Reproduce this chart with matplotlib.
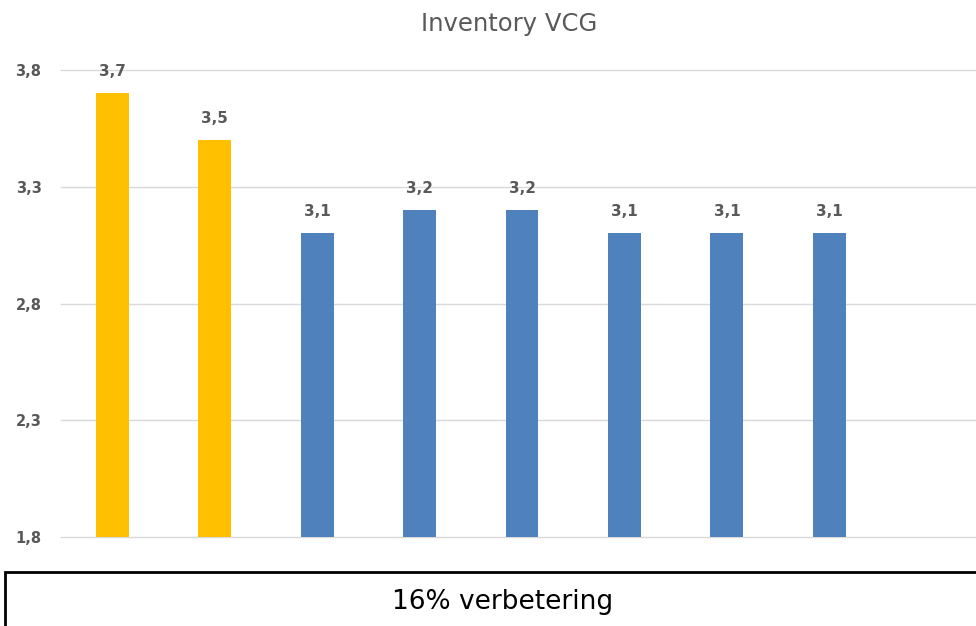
import matplotlib.pyplot as plt
from matplotlib.patches import Rectangle

categories = ['A', 'B', 'C', 'D', 'E', 'F', 'G', 'H', 'I']
values = [3.7, 3.5, 3.1, 3.2, 3.2, 3.1, 3.1, 3.1, None]
colors = ['#FFC000', '#FFC000', '#4F81BD', '#4F81BD', '#4F81BD',
          '#4F81BD', '#4F81BD', '#4F81BD', '#4F81BD']
yticks = [1.8, 2.3, 2.8, 3.3, 3.8]
title = 'Inventory VCG'
note = '16% verbetering'

grey = '#595959'
fig = plt.figure(figsize=(9.76, 6.26), dpi=100)
ax = fig.add_axes([61 / 976, 89 / 626, 922 / 976, 467 / 626])

xs = list(range(len(categories)))
for x, v, c in zip(xs, values, colors):
    if v is None:
        continue
    ax.bar(x, v - 1.8, bottom=1.8, width=0.32, color=c, zorder=3)
    ax.text(x, v + 0.06, f'{v:.1f}'.replace('.', ','), ha='center', va='bottom',
            fontsize=11, fontweight='bold', color=grey)

ax.set_xlim(-0.5, len(categories) - 0.5)
ax.set_ylim(1.8, 3.8)
ax.set_yticks(yticks)
ax.set_yticklabels([f'{t:.1f}'.replace('.', ',') for t in yticks],
                   fontsize=10.5, fontweight='bold', color=grey)
ax.set_xticks([])
for t in yticks:
    ax.axhline(t, color='#D9D9D9', linewidth=1, zorder=0, clip_on=False)
for s in ax.spines.values():
    s.set_visible(False)
ax.tick_params(axis='y', length=0, pad=14)

fig.text(509 / 976, 1 - 24 / 626, title, ha='center', va='center',
         fontsize=17.5, color=grey)

fig.patches.append(Rectangle((5 / 976, -0.05), 1.0, 0.05 + 54 / 626,
                             transform=fig.transFigure, fill=False,
                             edgecolor='black', linewidth=2))
fig.text(503 / 976, 1 - 602 / 626, note, ha='center', va='center',
         fontsize=19, color='black', family=['Liberation Sans Narrow', 'DejaVu Sans'])

fig.savefig('out.png', dpi=100)
